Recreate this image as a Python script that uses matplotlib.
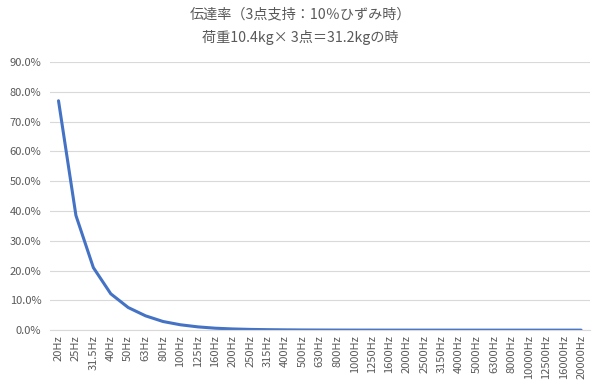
import matplotlib.pyplot as plt
from matplotlib.ticker import FuncFormatter

plt.rcParams['font.family'] = ['Noto Sans CJK JP', 'DejaVu Sans']

# Data
freqs = ["20Hz", "25Hz", "31.5Hz", "40Hz", "50Hz", "63Hz", "80Hz", "100Hz", "125Hz",
         "160Hz", "200Hz", "250Hz", "315Hz", "400Hz", "500Hz", "630Hz", "800Hz",
         "1000Hz", "1250Hz", "1600Hz", "2000Hz", "2500Hz", "3150Hz", "4000Hz",
         "5000Hz", "6300Hz", "8000Hz", "10000Hz", "12500Hz", "16000Hz", "20000Hz"]
transmission = [0.770, 0.385, 0.210, 0.122, 0.076, 0.048, 0.029, 0.018, 0.011,
                0.0065, 0.004, 0.0025, 0.0016, 0.001, 0.0006, 0.0004, 0.00025,
                0.00016, 0.0001, 0.00006, 0.00004, 0.00003, 0.00002, 0.00001,
                0.00001, 0.0, 0.0, 0.0, 0.0, 0.0, 0.0]

grey = "#595959"

fig = plt.figure(figsize=(6, 3.83), dpi=100)
ax = fig.add_axes([0.083, 0.138, 0.9, 0.7])

x = list(range(len(freqs)))
ax.plot(x, transmission, color="#4472c4", linewidth=2.2, solid_capstyle="round")

ax.set_xlim(-0.5, len(freqs) - 0.5)
ax.set_ylim(0, 0.9)
ax.set_yticks([i / 10 for i in range(10)])
ax.yaxis.set_major_formatter(FuncFormatter(lambda v, p: f"{v * 100:.1f}%"))
ax.set_xticks(x)
ax.set_xticklabels(freqs, rotation=90)

ax.grid(axis="y", color="#d9d9d9", linewidth=0.8)
ax.set_axisbelow(True)
for s in ["top", "right", "left"]:
    ax.spines[s].set_visible(False)
ax.spines["bottom"].set_color("#d9d9d9")
ax.tick_params(axis="both", length=0, colors=grey, labelsize=8)
ax.tick_params(axis="y", pad=6)

fig.text(0.5, 0.963, "伝達率（3点支持：10％ひずみ時）", ha="center", va="center",
         fontsize=10.2, color=grey)
fig.text(0.5, 0.903, "荷重10.4kg× 3点＝31.2kgの時", ha="center", va="center",
         fontsize=10.2, color=grey)

plt.savefig("out.png", dpi=100)
